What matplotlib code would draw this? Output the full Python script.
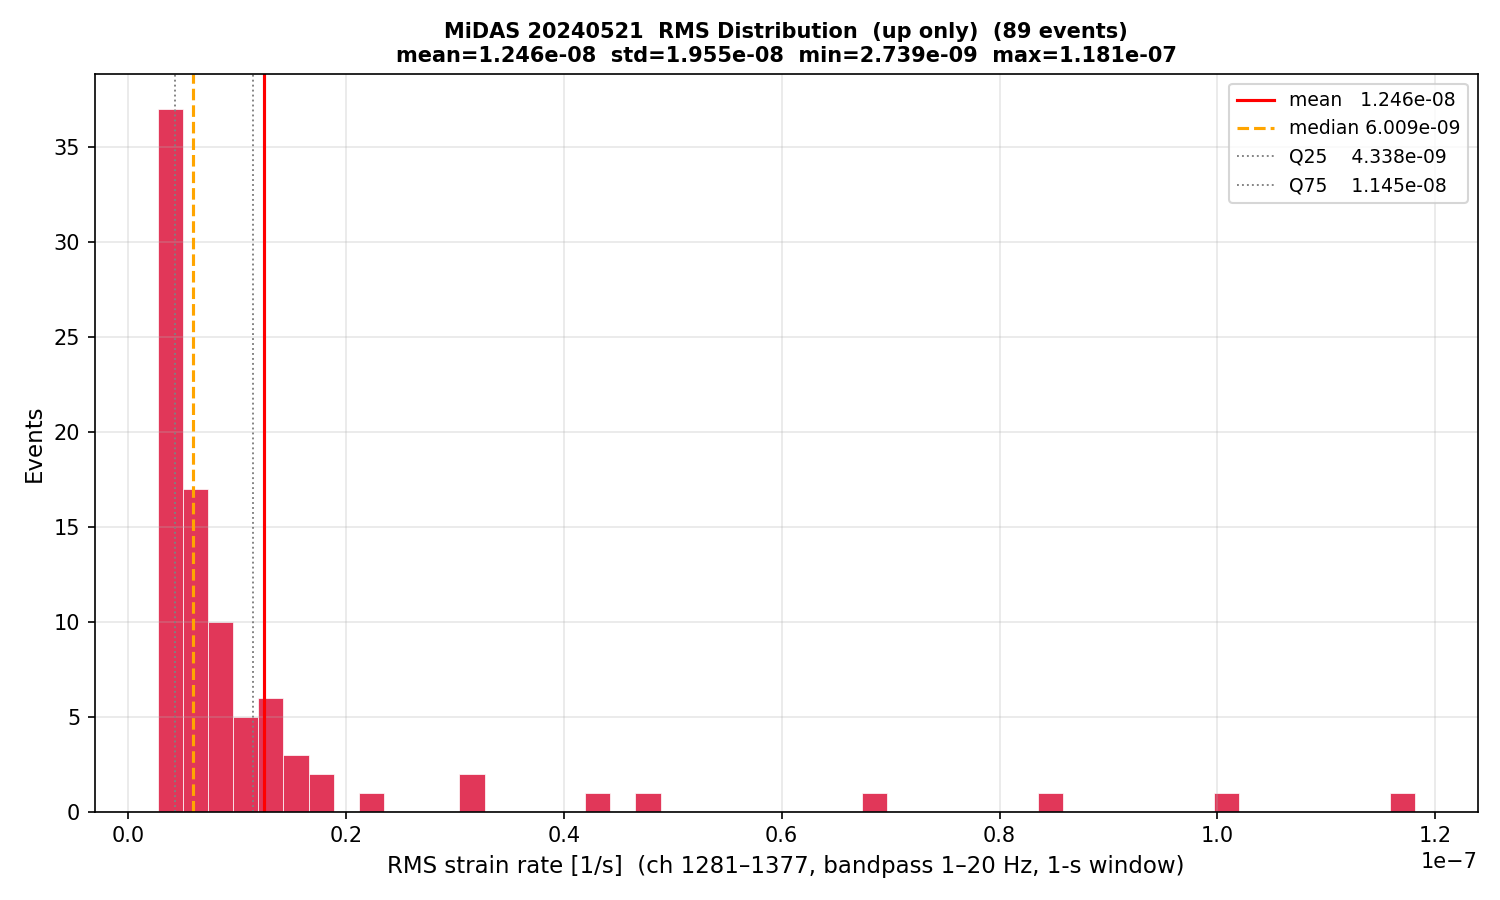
import numpy as np
import matplotlib
matplotlib.use("Agg")
import matplotlib.pyplot as plt

# histogram summary (50 bins from min to max)
RMS_MIN = 2.739e-9
RMS_MAX = 1.181e-7
N_BINS = 50
nonzero_bins = [0, 1, 2, 3, 4, 5, 6, 8, 12, 17, 19, 28, 35, 42, 49]
bin_counts = [37, 17, 10, 5, 6, 3, 2, 1, 2, 1, 1, 1, 1, 1, 1]

mean_v = 1.246e-8
std_v = 1.955e-8
median_v = 6.009e-9
q25_v = 4.338e-9
q75_v = 1.145e-8
n_events = 89

edges = np.linspace(RMS_MIN, RMS_MAX, N_BINS + 1)
centers = 0.5 * (edges[:-1] + edges[1:])
counts = np.zeros(N_BINS)
counts[nonzero_bins] = bin_counts

fig, ax = plt.subplots(figsize=(10, 6), dpi=150)
ax.hist(centers, bins=edges, weights=counts, color="crimson", alpha=0.85,
        edgecolor="white", linewidth=0.4)
ax.axvline(mean_v, color="red", lw=1.5, label=f"mean   {mean_v:.3e}")
ax.axvline(median_v, color="orange", lw=1.5, ls="--", label=f"median {median_v:.3e}")
ax.axvline(q25_v, color="gray", lw=0.9, ls=":", label=f"Q25    {q25_v:.3e}")
ax.axvline(q75_v, color="gray", lw=0.9, ls=":", label=f"Q75    {q75_v:.3e}")

ax.set_xlabel("RMS strain rate [1/s]  (ch 1281–1377, bandpass 1–20 Hz, 1-s window)", fontsize=11)
ax.set_ylabel("Events", fontsize=11)
ax.set_title(f"MiDAS 20240521  RMS Distribution  (up only)  ({n_events} events)\n"
             f"mean={mean_v:.3e}  std={std_v:.3e}  min={RMS_MIN:.3e}  max={RMS_MAX:.3e}",
             fontsize=10, fontweight="bold")
ax.legend(loc="upper right", fontsize=9)
ax.grid(alpha=0.3)
fig.tight_layout()
fig.savefig("out.png")
